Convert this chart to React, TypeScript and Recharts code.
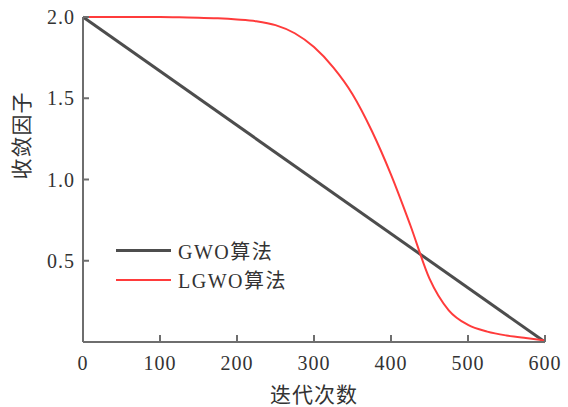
import { LineChart, Line, XAxis, YAxis, Legend } from "recharts";

// iterations sampled along the LGWO curve
const ITERATIONS = [
  0, 25, 50, 75, 100, 125, 150, 175, 200, 225, 250, 275, 300, 325, 350, 375,
  400, 425, 450, 475, 500, 525, 550, 575, 600,
];
const LGWO_FACTOR = [
  2.0, 2.0, 2.0, 2.0, 2.0, 1.998, 1.996, 1.992, 1.985, 1.974, 1.95, 1.9,
  1.815, 1.69, 1.525, 1.3, 1.03, 0.72, 0.39, 0.195, 0.105, 0.064, 0.04, 0.024,
  0.01,
];
const GWO_ITERATIONS = [0, 600];
const GWO_FACTOR = [2.0, 0.0];

const X_TICKS = [0, 100, 200, 300, 400, 500, 600];
const Y_TICKS = [0.5, 1.0, 1.5, 2.0];

const lgwoData = ITERATIONS.map((t, i) => ({ t, a: LGWO_FACTOR[i] }));
const gwoData = GWO_ITERATIONS.map((t, i) => ({ t, a: GWO_FACTOR[i] }));

const AXIS_COLOR = "#6e6e6e";
const TEXT_COLOR = "#333";
const FONT = '"Liberation Serif", "Noto Sans CJK SC", serif';
const PLOT_LEFT = 83;
const PLOT_BOTTOM = 342;

const XTick = ({ x, payload }: any) => (
  <g>
    <line x1={x} x2={x} y1={PLOT_BOTTOM} y2={PLOT_BOTTOM - 7} stroke={AXIS_COLOR} strokeWidth={2} />
    <text x={x} y={370} textAnchor="middle" fontSize={20} letterSpacing={1} fill={TEXT_COLOR} fontFamily={FONT}>
      {payload.value}
    </text>
  </g>
);

const YTick = ({ y, payload }: any) => (
  <g>
    <line x1={PLOT_LEFT} x2={PLOT_LEFT + 6} y1={y} y2={y} stroke={AXIS_COLOR} strokeWidth={2} />
    <text x={75} y={y + 7} textAnchor="end" fontSize={20} letterSpacing={1} fill={TEXT_COLOR} fontFamily={FONT}>
      {payload.value.toFixed(1)}
    </text>
  </g>
);

const renderLegend = ({ payload }: any) => (
  <div style={{ fontFamily: FONT }}>
    {payload.map((item: any) => (
      <div key={item.value} style={{ display: "flex", alignItems: "center", height: 29 }}>
        <div
          style={{
            width: 55,
            height: item.value === "GWO算法" ? 3 : 2,
            backgroundColor: item.color,
            marginRight: 7,
          }}
        />
        <span style={{ fontSize: 20, letterSpacing: 1.5, color: TEXT_COLOR }}>{item.value}</span>
      </div>
    ))}
  </div>
);

export default function App() {
  return (
    <div>
      <style>{`body{margin:0}`}</style>
      <LineChart width={568} height={407} margin={{ top: 17, right: 23, left: 0, bottom: 0 }}>
        <XAxis
          dataKey="t"
          type="number"
          domain={[0, 600]}
          ticks={X_TICKS}
          height={65}
          axisLine={{ stroke: AXIS_COLOR, strokeWidth: 2 }}
          tickLine={false}
          tick={<XTick />}
          label={{
            value: "迭代次数",
            position: "insideBottom",
            offset: 5,
            fontSize: 21,
            letterSpacing: 1,
            fill: TEXT_COLOR,
            fontFamily: FONT,
          }}
        />
        <YAxis
          type="number"
          domain={[0, 2]}
          ticks={Y_TICKS}
          width={83}
          axisLine={{ stroke: AXIS_COLOR, strokeWidth: 2 }}
          tickLine={false}
          tick={<YTick />}
          label={{
            value: "收敛因子",
            angle: -90,
            position: "insideLeft",
            offset: 22,
            fontSize: 21,
            letterSpacing: 1,
            fill: TEXT_COLOR,
            fontFamily: FONT,
          }}
        />
        <Legend
          layout="vertical"
          align="center"
          verticalAlign="middle"
          content={renderLegend}
          wrapperStyle={{ position: "absolute", left: 116, top: 236, width: "auto", height: "auto" }}
        />
        <Line
          data={gwoData}
          dataKey="a"
          name="GWO算法"
          type="linear"
          stroke="#4d4d4d"
          strokeWidth={3}
          dot={false}
          isAnimationActive={false}
        />
        <Line
          data={lgwoData}
          dataKey="a"
          name="LGWO算法"
          type="monotone"
          stroke="#ff3b3b"
          strokeWidth={2}
          dot={false}
          isAnimationActive={false}
        />
      </LineChart>
    </div>
  );
}
